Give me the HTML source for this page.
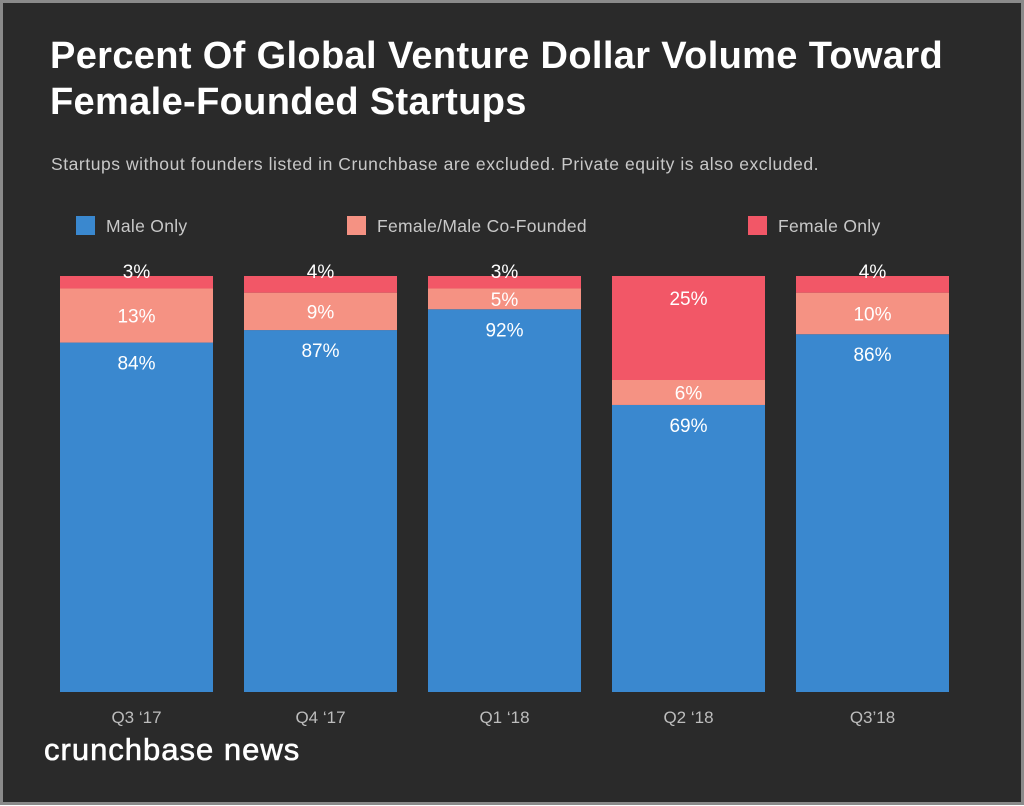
<!DOCTYPE html>
<html><head><meta charset="utf-8"><style>
html,body{margin:0;padding:0;background:#fff;}
#frame{position:absolute;left:0;top:0;width:1018px;height:799px;background:#2a2a2a;border:3px solid #8a8a8a;overflow:hidden;font-family:"Liberation Sans",sans-serif;}
.t{position:absolute;white-space:nowrap;}
</style></head><body>
<div id="frame">
<div class="t" style="left:47px;top:30px;font-size:38px;font-weight:bold;color:#fff;line-height:46px;letter-spacing:0.35px;">Percent Of Global Venture Dollar Volume Toward<br>Female-Founded Startups</div>
<div class="t" style="left:48px;top:151px;font-size:17.5px;color:#c8c8c8;letter-spacing:0.55px;">Startups without founders listed in Crunchbase are excluded. Private equity is also excluded.</div>
<svg id="chart" width="1018" height="799" style="position:absolute;left:0;top:0"></svg>
<div class="t" style="left:41px;top:729px;font-size:31px;color:#fff;letter-spacing:1px;-webkit-text-stroke:0.6px #fff;">crunchbase news</div>
</div>
<script>
const categories=["Q3 \u201817","Q4 \u201817","Q1 \u201818","Q2 \u201818","Q3\u201918"];
const maleOnly=[84,87,92,69,86];
const coFounded=[13,9,5,6,10];
const femaleOnly=[3,4,3,25,4];
const seriesNames=["Male Only","Female/Male Co-Founded","Female Only"];
const colors=["#3a88cf","#f59283","#f25767"];
const ns="http://www.w3.org/2000/svg";
const svg=document.getElementById('chart');
const ox=-3,oy=-3;
const bottom=692+oy,plotH=416,x0=60+ox,step=184,bw=153;
function y(v){return bottom-v/100*plotH;}
function mk(tag,attrs){const e=document.createElementNS(ns,tag);for(const k in attrs)e.setAttribute(k,attrs[k]);svg.appendChild(e);return e;}
function txt(x,yy,s,fill,size){const e=mk('text',{x:x,y:yy,'text-anchor':'middle',fill:fill,'font-size':size,'font-family':'Liberation Sans, sans-serif'});e.textContent=s;return e;}
const legX=[76,347,748];
seriesNames.forEach((n,i)=>{
 const r=mk('rect',{x:legX[i]+ox,y:216+oy,width:19,height:19,fill:colors[i]});
 
 
 const t=mk('text',{x:legX[i]+30+ox,y:232+oy,fill:'#c8c8c8','font-size':17.5,'letter-spacing':0.3,'font-family':'Liberation Sans, sans-serif'});
 t.textContent=n;
 
 
});
categories.forEach((c,i)=>{
 const x=x0+i*step,cx=x+bw/2;
 const segs=[maleOnly[i],coFounded[i],femaleOnly[i]];
 let acc=0;
 segs.forEach((v,j)=>{
  const top=y(acc+v),bot=y(acc);
  const r=mk('rect',{x:x,y:top,width:bw,height:bot-top,fill:colors[j]});
  
  
  let ly;
  if(j===0) ly=top+27;
  else if(j===2 && v<8) ly=top+2;
  else if(j===2) ly=top+29;
  else ly=(top+bot)/2+7;
  const t=txt(cx,ly,v+'%','#fff',19);
  
  
  acc+=v;
 });
 const cl=txt(cx,723+oy,c,'#bdbdbd',17);
 
 
});
</script>
</body></html>
